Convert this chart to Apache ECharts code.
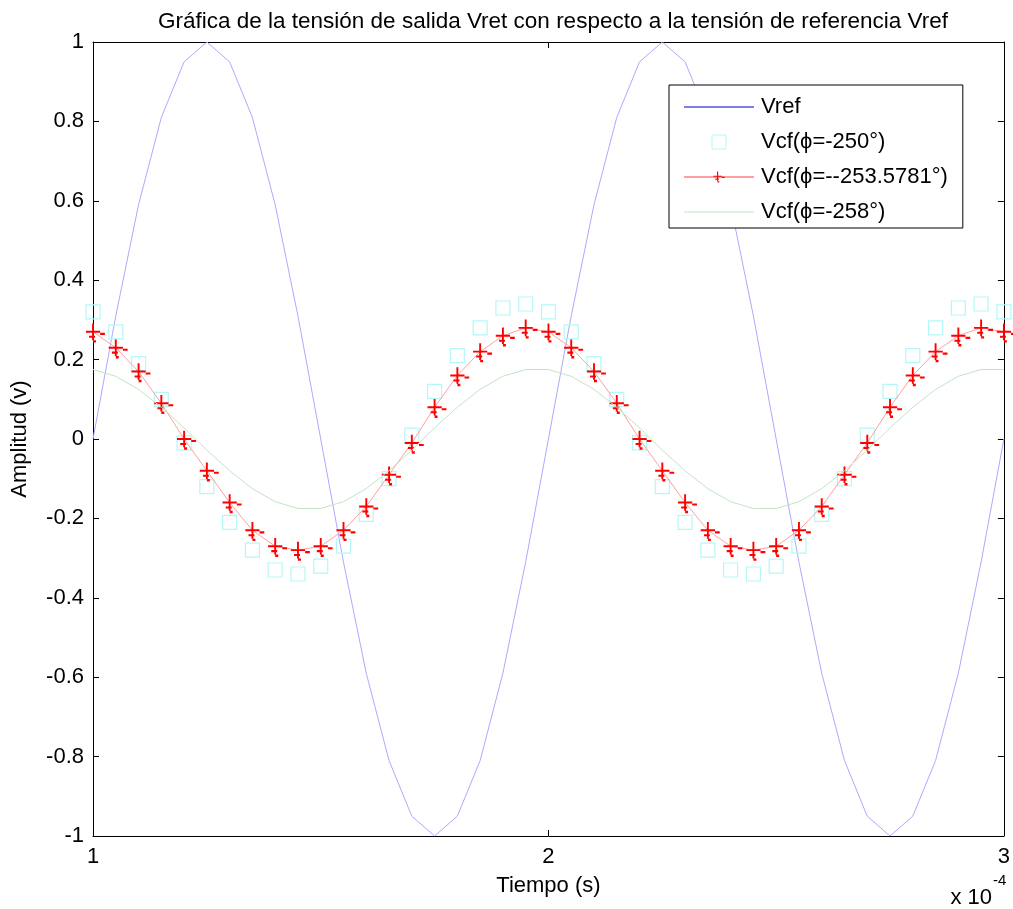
<!DOCTYPE html>
<html>
<head>
<meta charset="utf-8">
<script src="https://cdn.jsdelivr.net/npm/echarts@6/dist/echarts.min.js"></script>
<style>
  html, body { margin: 0; padding: 0; background: #fff; }
  #chart { width: 1013px; height: 909px; }
</style>
</head>
<body>
<div id="chart"></div>
<script>
// tiempo en unidades de 1e-4 s
const tiempo = [1.00, 1.05, 1.10, 1.15, 1.20, 1.25, 1.30, 1.35, 1.40, 1.45,
  1.50, 1.55, 1.60, 1.65, 1.70, 1.75, 1.80, 1.85, 1.90, 1.95,
  2.00, 2.05, 2.10, 2.15, 2.20, 2.25, 2.30, 2.35, 2.40, 2.45,
  2.50, 2.55, 2.60, 2.65, 2.70, 2.75, 2.80, 2.85, 2.90, 2.95, 3.00]

const vref = [0, 0.31, 0.59, 0.81, 0.95, 1, 0.95, 0.81, 0.59, 0.31,
  0, -0.31, -0.59, -0.81, -0.95, -1, -0.95, -0.81, -0.59, -0.31,
  0, 0.31, 0.59, 0.81, 0.95, 1, 0.95, 0.81, 0.59, 0.31,
  0, -0.31, -0.59, -0.81, -0.95, -1, -0.95, -0.81, -0.59, -0.31, 0]

const vcf250 = [0.32, 0.27, 0.19, 0.10, -0.01, -0.12, -0.21, -0.28, -0.33, -0.34,
  -0.32, -0.27, -0.19, -0.10, 0.01, 0.12, 0.21, 0.28, 0.33, 0.34,
  0.32, 0.27, 0.19, 0.10, -0.01, -0.12, -0.21, -0.28, -0.33, -0.34,
  -0.32, -0.27, -0.19, -0.10, 0.01, 0.12, 0.21, 0.28, 0.33, 0.34, 0.32]

const vcf2536 = [0.27, 0.23, 0.17, 0.09, 0.00, -0.08, -0.16, -0.23, -0.27, -0.28,
  -0.27, -0.23, -0.17, -0.09, -0.01, 0.08, 0.16, 0.22, 0.26, 0.28,
  0.27, 0.23, 0.17, 0.09, 0.00, -0.08, -0.16, -0.23, -0.27, -0.28,
  -0.27, -0.23, -0.17, -0.09, -0.01, 0.08, 0.16, 0.22, 0.26, 0.28, 0.27]

const vcf258 = [0.175, 0.158, 0.125, 0.080, 0.028, -0.028, -0.080, -0.125, -0.158, -0.175,
  -0.175, -0.158, -0.125, -0.080, -0.028, 0.028, 0.080, 0.125, 0.158, 0.175,
  0.175, 0.158, 0.125, 0.080, 0.028, -0.028, -0.080, -0.125, -0.158, -0.175,
  -0.175, -0.158, -0.125, -0.080, -0.028, 0.028, 0.080, 0.125, 0.158, 0.175, 0.175]

const nombres = ['Vref', 'Vcf(\u03d5=-250°)', 'Vcf(\u03d5=--253.5781°)', 'Vcf(\u03d5=-258°)']

// marcador '+' con los restos que deja MATLAB al exportar
const plusPath = 'path://M0,6.2H12V7.8H0Z M5.2,0H6.8V14H5.2Z M12,7.8H16V9.6H12Z M2.7,10.3H7.7V12H2.7Z M6,14H8.5V16H6Z'

const pares = arr => tiempo.map((t, i) => [t, arr[i]])

const font = 'Liberation Sans, Arial, sans-serif'

const chart = echarts.init(document.getElementById('chart'))

const ejeX = {
  type: 'value',
  min: 1,
  max: 3,
  interval: 1,
  splitLine: { show: false },
  axisLine: { show: true, onZero: false, lineStyle: { color: '#000', width: 1 } },
  axisTick: { show: true, inside: true, length: 6, lineStyle: { color: '#000' } }
}
const ejeY = {
  type: 'value',
  min: -1,
  max: 1,
  interval: 0.2,
  splitLine: { show: false },
  axisLine: { show: true, onZero: false, lineStyle: { color: '#000', width: 1 } },
  axisTick: { show: true, inside: true, length: 6, lineStyle: { color: '#000' } }
}

const option = {
  backgroundColor: '#fff',
  animation: false,
  textStyle: { fontFamily: font },
  title: {
    text: 'Gráfica de la tensión de salida Vret con respecto a la tensión de referencia Vref',
    left: 548,
    textAlign: 'center',
    top: 5,
    textStyle: { fontFamily: font, fontSize: 22.5, fontWeight: 'normal', color: '#000' }
  },
  grid: { left: 93, right: 8, top: 42, bottom: 73, show: false },
  legend: {
    orient: 'vertical',
    left: 669,
    top: 85,
    padding: [11, 15, 5, 14],
    itemWidth: 70,
    itemHeight: 14,
    itemGap: 13,
    borderColor: '#000',
    borderWidth: 1,
    borderRadius: 0,
    backgroundColor: '#fff',
    textStyle: { fontFamily: font, fontSize: 22, lineHeight: 22, color: '#000', padding: [0, 0, 0, 2] },
    data: [
      { name: nombres[0], icon: 'path://M0,6.5H70V7.5H0Z', itemStyle: { color: '#0000cc' } },
      { name: nombres[1], icon: 'path://M28,0H42V14H28Z', itemStyle: { color: 'transparent', borderColor: '#b4f7f7', borderWidth: 1 } },
      { name: nombres[2] },
      { name: nombres[3], icon: 'path://M0,6.5H70V7.5H0Z', itemStyle: { color: '#c4e4c4' } }
    ]
  },
  xAxis: [
    Object.assign({}, ejeX, {
      position: 'bottom',
      name: 'Tiempo (s)',
      nameLocation: 'middle',
      nameGap: 39,
      nameTextStyle: { fontFamily: font, fontSize: 22, color: '#000' },
      axisLabel: { fontFamily: font, fontSize: 22, color: '#000', margin: 10 }
    }),
    Object.assign({}, ejeX, { position: 'top', axisLabel: { show: false } })
  ],
  yAxis: [
    Object.assign({}, ejeY, {
      position: 'left',
      name: 'Amplitud (v)',
      nameLocation: 'middle',
      nameGap: 62,
      nameTextStyle: { fontFamily: font, fontSize: 22, color: '#000' },
      axisLabel: { fontFamily: font, fontSize: 22, color: '#000', margin: 9 }
    }),
    Object.assign({}, ejeY, { position: 'right', axisLabel: { show: false } })
  ],
  graphic: [
    {
      type: 'text',
      x: 992,
      y: 898,
      style: { text: 'x 10', font: '22px ' + font, fill: '#000', align: 'right', verticalAlign: 'middle' }
    },
    {
      type: 'text',
      x: 993,
      y: 881,
      style: { text: '-4', font: '15px ' + font, fill: '#000', align: 'left', verticalAlign: 'middle' }
    }
  ],
  series: [
    {
      name: nombres[0],
      type: 'line',
      data: pares(vref),
      showSymbol: false,
      lineStyle: { color: '#aaaaff', width: 1 },
      itemStyle: { color: '#0000cc' },
      z: 2
    },
    {
      name: nombres[1],
      type: 'scatter',
      data: pares(vcf250),
      symbol: 'rect',
      symbolSize: 14,
      itemStyle: { color: 'transparent', borderColor: '#b4f7f7', borderWidth: 1.2, opacity: 1 },
      z: 3
    },
    {
      name: nombres[2],
      type: 'line',
      data: pares(vcf2536),
      symbol: plusPath,
      symbolSize: [19, 19],
      symbolOffset: [2.4, 1.2],
      showSymbol: true,
      lineStyle: { color: '#ffa0a0', width: 1 },
      itemStyle: { color: '#ff0000' },
      z: 4
    },
    {
      name: nombres[3],
      type: 'line',
      data: pares(vcf258),
      showSymbol: false,
      lineStyle: { color: '#c4e4c4', width: 1 },
      itemStyle: { color: '#c4e4c4' },
      z: 5
    }
  ]
}

chart.setOption(option)
</script>
</body>
</html>
